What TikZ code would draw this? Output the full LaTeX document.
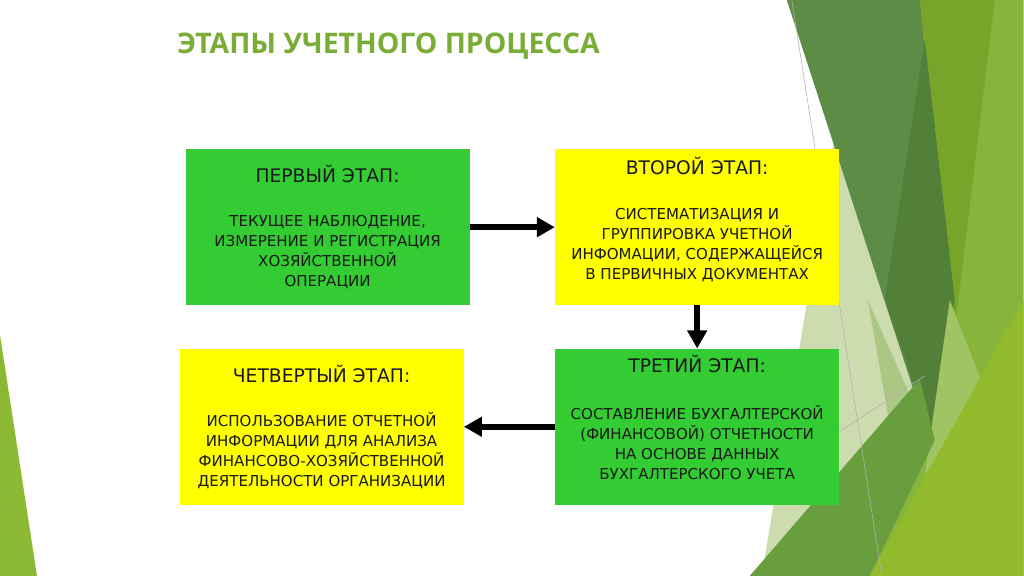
\documentclass[tikz,border=0pt]{standalone}
\usepackage{fontspec}
\setmainfont{DejaVu Sans}
\newfontfamily\titlefont{Open Sans}
\usetikzlibrary{positioning,arrows.meta}

\definecolor{boxgreen}{RGB}{51,204,51}
\definecolor{boxyellow}{RGB}{255,255,0}
\definecolor{titlegreen}{RGB}{122,172,56}
\definecolor{facetdark}{RGB}{92,140,70}
\definecolor{facetdeep}{RGB}{82,128,56}
\definecolor{facetolive}{RGB}{118,165,42}
\definecolor{facetlight}{RGB}{135,180,58}
\definecolor{facetbright}{RGB}{145,187,45}
\definecolor{facetmid}{RGB}{105,158,62}
\definecolor{facetpale}{RGB}{205,220,175}
\definecolor{facetgrey}{RGB}{172,198,132}
\definecolor{facetsoft}{RGB}{160,195,100}
\definecolor{facetleft}{RGB}{140,185,52}

\newcommand{\stagehead}{\fontsize{13.3}{15}\selectfont}

\begin{document}
\begin{tikzpicture}
    \tikzstyle{arrow} = [line width=4.3pt, -{Triangle[length=0.45cm, width=0.475cm]}]
    \tikzstyle{stagebox} = [rectangle, minimum width=7.1cm, minimum height=3.9cm, inner sep=0pt]
    \tikzstyle{stagetext} = [align=center, text=black!90, font=\fontsize{10.7}{14.2}\selectfont]
    \useasboundingbox (0,0) rectangle (25.6,14.4);

    % background facets (pixel grid, y down)
    \begin{scope}[shift={(0,14.4)}, x=0.025cm, y=-0.025cm]
    \fill[facetleft] (0,335) -- (37,576) -- (0,576) -- cycle;
    \fill[facetlight] (920,0) -- (1024,0) -- (1024,576) -- (870,576) -- (930,440) -- cycle;
    \fill[facetolive] (920,0) -- (995,0) -- (955,330) -- cycle;
    \fill[facetpale] (834,140) -- (925,420) -- (790,576) -- (762,576) -- cycle;
    \fill[facetgrey] (868,300) -- (930,440) -- (890,425) -- cycle;
    \fill[facetdark] (787,0) -- (920,0) -- (950,300) -- (930,440) -- cycle;
    \fill[facetdeep] (925,40) -- (955,300) -- (932,435) -- (885,300) -- cycle;
    \fill[facetsoft] (950,300) -- (985,390) -- (925,475) -- cycle;
    \fill[facetmid] (750,576) -- (920,379) -- (935,440) -- (870,576) -- cycle;
    \fill[facetbright] (870,576) -- (1024,300) -- (1024,576) -- cycle;
    \draw[gray!60, line width=0.4pt] (792,0) -- (882,576);
    \draw[gray!60, line width=0.4pt] (836,434) -- (925,376);
    \end{scope}

    \node[anchor=west, inner sep=0pt, text=titlegreen, font=\titlefont\bfseries\fontsize{20.2}{24}\selectfont] (title) at (4.425,13.24) {ЭТАПЫ УЧЕТНОГО ПРОЦЕССА};

    \node[stagebox, fill=boxgreen] (st1) at (8.19,8.72) {};
    \node[stagebox, fill=boxyellow, right=2.125cm of st1] (st2) {};
    \node[stagebox, fill=boxgreen, below=1.075cm of st2] (st3) {};
    \node[stagebox, fill=boxyellow, left=2.275cm of st3] (st4) {};

    \node[stagetext] (t1) at ([yshift=0cm]st1) {{\stagehead ПЕРВЫЙ ЭТАП:}\\[17pt]ТЕКУЩЕЕ НАБЛЮДЕНИЕ,\\ИЗМЕРЕНИЕ И РЕГИСТРАЦИЯ\\ХОЗЯЙСТВЕННОЙ\\ОПЕРАЦИИ};
    \node[stagetext] (t2) at ([yshift=0.2cm]st2) {{\stagehead ВТОРОЙ ЭТАП:}\\[18pt]СИСТЕМАТИЗАЦИЯ И\\ГРУППИРОВКА УЧЕТНОЙ\\ИНФОМАЦИИ, СОДЕРЖАЩЕЙСЯ\\В ПЕРВИЧНЫХ ДОКУМЕНТАХ};
    \node[stagetext] (t3) at ([yshift=0.24cm]st3) {{\stagehead ТРЕТИЙ ЭТАП:}\\[19pt]СОСТАВЛЕНИЕ БУХГАЛТЕРСКОЙ\\(ФИНАНСОВОЙ) ОТЧЕТНОСТИ\\НА ОСНОВЕ ДАННЫХ\\БУХГАЛТЕРСКОГО УЧЕТА};
    \node[stagetext] (t4) at ([yshift=0cm]st4) {{\stagehead ЧЕТВЕРТЫЙ ЭТАП:}\\[17pt]ИСПОЛЬЗОВАНИЕ ОТЧЕТНОЙ\\ИНФОРМАЦИИ ДЛЯ АНАЛИЗА\\ФИНАНСОВО-ХОЗЯЙСТВЕННОЙ\\ДЕЯТЕЛЬНОСТИ ОРГАНИЗАЦИИ};

    \draw[arrow] (st1) -- (st2);
    \draw[arrow] (st2) -- (st3);
    \draw[arrow] (st3) -- (st4);
\end{tikzpicture}
\end{document}
